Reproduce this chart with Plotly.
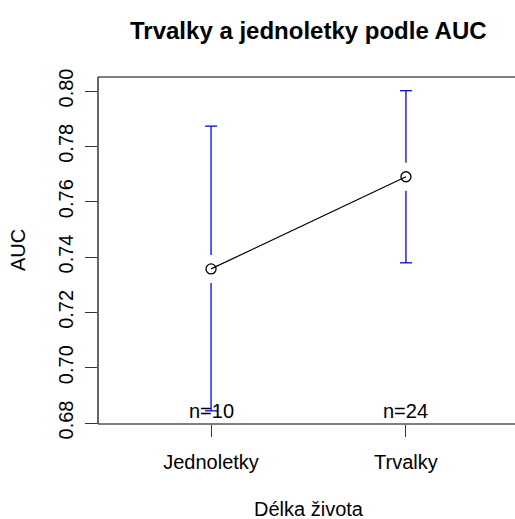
import plotly.graph_objects as go

# Mean AUC with confidence intervals, by life form
groups = ["Jednoletky", "Trvalky"]
group_pos = [1, 2]
means = [0.7357, 0.7690]
ci_lower = [0.6844, 0.7379]
ci_upper = [0.7873, 0.8001]
counts = [10, 24]

y_ticks = [0.68, 0.70, 0.72, 0.74, 0.76, 0.78, 0.80]
y_tick_text = ["0.68", "0.70", "0.72", "0.74", "0.76", "0.78", "0.80"]

W, H = 515, 519
left, top, bottom_px = 98, 77, 424
full_right = 519                      # plot region runs slightly past the canvas edge
x_full = (0.42, 2.58)
y_range = (0.67964, 0.80506)

px_per_x = (full_right - left) / (x_full[1] - x_full[0])
px_per_y = (bottom_px - top) / (y_range[1] - y_range[0])
x_range = (x_full[0], x_full[0] + (W - left) / px_per_x)

gap = 14 / px_per_y       # blank space around each mean point
cap = 6 / px_per_x        # half width of the error-bar caps

bar_x, bar_y = [], []
for xp, m, lo, hi in zip(group_pos, means, ci_lower, ci_upper):
    bar_x += [xp, xp, None, xp, xp, None,
              xp - cap, xp + cap, None, xp - cap, xp + cap, None]
    bar_y += [lo, m - gap, None, m + gap, hi, None,
              lo, lo, None, hi, hi, None]

fig = go.Figure()
fig.add_trace(go.Scatter(x=bar_x, y=bar_y, mode="lines",
                         line=dict(color="#0000ff", width=1.3),
                         hoverinfo="skip", showlegend=False))
fig.add_trace(go.Scatter(x=group_pos, y=means, mode="lines+markers",
                         line=dict(color="black", width=1.2),
                         marker=dict(symbol="circle-open", size=10,
                                     color="black", line=dict(width=1.3)),
                         showlegend=False))

font = "Liberation Sans, Arial, sans-serif"

# group sizes along the bottom of the plot region
for xp, n in zip(group_pos, counts):
    fig.add_annotation(x=xp, xref="x", y=0, yref="paper", yanchor="middle",
                       yshift=13, text=f"n={n}", showarrow=False,
                       font=dict(size=20, color="black", family=font))

fig.add_annotation(x=1.5, xref="x", y=1 + (top - 30) / (bottom_px - top),
                   yref="paper", yanchor="middle",
                   text="<b>Trvalky a jednoletky podle AUC</b>", showarrow=False,
                   font=dict(size=24, color="black", family=font))
fig.add_annotation(x=1.5, xref="x", y=-(509 - bottom_px) / (bottom_px - top),
                   yref="paper", yanchor="middle", text="Délka života",
                   showarrow=False, font=dict(size=20, color="black", family=font))
fig.add_annotation(x=-(left - 18) / (W - left), xref="paper", xanchor="center",
                   y=(bottom_px - 250) / (bottom_px - top), yref="paper",
                   yanchor="middle", textangle=-90, text="AUC", showarrow=False,
                   font=dict(size=20, color="black", family=font))

# open box: left, top and bottom edges
box = dict(color="black", width=1.2)
fig.add_shape(type="line", xref="paper", yref="paper", x0=0, x1=0, y0=0, y1=1, line=box)
fig.add_shape(type="line", xref="paper", yref="paper", x0=0, x1=1, y0=1, y1=1, line=box)
fig.add_shape(type="line", xref="paper", yref="paper", x0=0, x1=1, y0=0, y1=0, line=box)

fig.update_xaxes(range=list(x_range), tickvals=group_pos, ticktext=groups,
                 ticks="outside", ticklen=12, tickwidth=1, tickcolor="#333333",
                 showgrid=False, zeroline=False, showline=False,
                 ticklabelstandoff=8,
                 tickfont=dict(size=20, color="black", family=font))
fig.update_yaxes(range=list(y_range), tickvals=y_ticks, ticktext=y_tick_text,
                 ticks="outside", ticklen=12, tickwidth=1, tickcolor="#333333",
                 showgrid=False, zeroline=False, showline=False,
                 tickangle=-90, ticklabelstandoff=4,
                 tickfont=dict(size=20, color="black", family=font))

fig.update_layout(width=W, height=H, plot_bgcolor="white", paper_bgcolor="white",
                  margin=dict(l=left, r=0, t=top, b=H - bottom_px),
                  showlegend=False)

fig.write_html("out.html")
